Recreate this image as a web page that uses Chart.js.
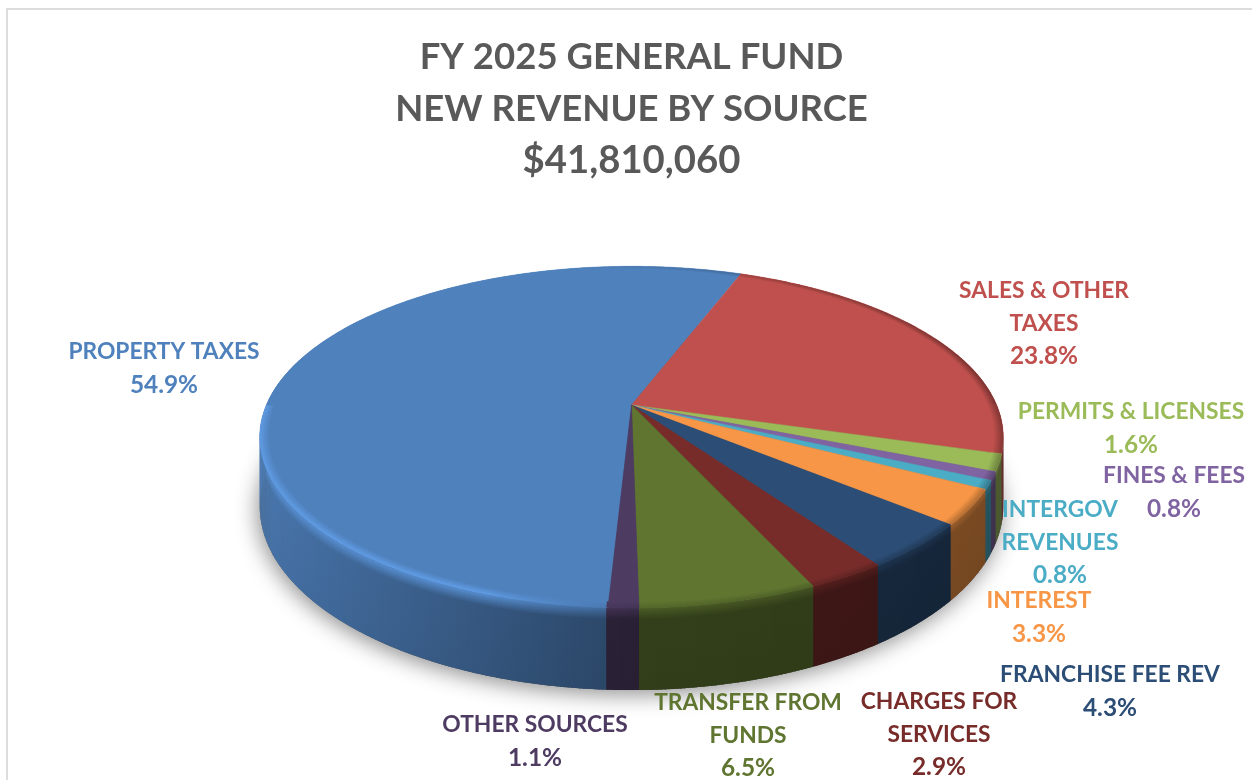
<!DOCTYPE html>
<html>
<head>
<meta charset="utf-8">
<title>FY 2025 General Fund</title>
<script src="https://cdn.jsdelivr.net/npm/chart.js@4"></script>
<style>
    html, body { margin: 0; padding: 0; background: #fff; overflow: hidden; }
    #frame { position: absolute; left: 6px; top: 8px; width: 1246px; height: 772px; box-sizing: border-box; border-top: 2px solid #dcdcdc; border-left: 2px solid #dcdcdc; }
    #wrap { position: absolute; left: 0; top: 0; width: 1252px; height: 780px; }
</style>
</head>
<body>
<div id="frame"></div>
<div id="wrap"><canvas id="revenueChart" width="1252" height="780"></canvas></div>
<script>
const titleLines = ['FY 2025 GENERAL FUND', 'NEW REVENUE BY SOURCE'];
const totalLine = '$41,810,060';
const categories = ['PROPERTY TAXES', 'SALES & OTHER TAXES', 'PERMITS & LICENSES', 'FINES & FEES', 'INTERGOV REVENUES', 'INTEREST', 'FRANCHISE FEE REV', 'CHARGES FOR SERVICES', 'TRANSFER FROM FUNDS', 'OTHER SOURCES'];
const shares = [54.9, 23.8, 1.6, 0.8, 0.8, 3.3, 4.3, 2.9, 6.5, 1.1];
const sliceColors = ['#4f81bd', '#c0504d', '#9bbb59', '#8064a2', '#4bacc6', '#f79646', '#2c4d75', '#772c2a', '#5f7530', '#4d3b62'];

// how each category name wraps, and where its label sits (centre x, first line y)
const labelLines = [['PROPERTY TAXES'], ['SALES & OTHER', 'TAXES'], ['PERMITS & LICENSES'], ['FINES & FEES'], ['INTERGOV', 'REVENUES'], ['INTEREST'], ['FRANCHISE FEE REV'], ['CHARGES FOR', 'SERVICES'], ['TRANSFER FROM', 'FUNDS'], ['OTHER SOURCES']];
const labelX = [164, 1044, 1131, 1174, 1060, 1039, 1110, 939, 748, 535];
const labelY = [352, 291, 412, 476, 510, 601, 675, 702, 703, 725];
const labelLineHeight = 32.7;

// the pie tilted towards the viewer, as multiples of the arc's outer radius
const tilt = { across: 1.675, along: 0.756, perspective: 0.188, thickness: 0.306, bevel: 0.975 };

function shadeColor(hex, f) {
    const n = parseInt(hex.slice(1), 16);
    const ch = [(n >> 16) & 255, (n >> 8) & 255, n & 255].map(c => Math.min(255, Math.round(c * f)));
    return `rgb(${ch[0]}, ${ch[1]}, ${ch[2]})`;
}

function project(arc, angle, r, depth) {
    const R = arc.outerRadius;
    const u = r * Math.cos(angle);
    const v = r * Math.sin(angle);
    const w = 1 - tilt.perspective * v;
    return {
        x: arc.x + R * tilt.across * u / w,
        y: arc.y + R * tilt.along * v / w + depth * R * tilt.thickness / w
    };
}

// wall brightness, the light comes from the left
function wallShade(angle) {
    const u = Math.cos(angle);
    return u < 0 ? 0.54 + 0.4 * -u : 0.54 - 0.06 * u;
}

// brightness of the rounded edge on the top face
function rimShade(angle) {
    const u = Math.cos(angle);
    const v = Math.sin(angle);
    if (v < 0) return 1 - 0.3 * Math.max(u + 0.2, 0);
    if (u < 0) return 1 + 0.2 * Math.min(-u * 3, 1) - 0.12 * (1 - Math.min(-u * 3, 1));
    return 0.88 - 0.2 * u;
}

function anglesOf(arc) {
    const steps = Math.max(2, Math.ceil((arc.endAngle - arc.startAngle) / (Math.PI / 360)));
    const list = [];
    for (let i = 0; i <= steps; i++) {
        list.push(arc.startAngle + (arc.endAngle - arc.startAngle) * i / steps);
    }
    return list;
}

function drawShadow(ctx, arc) {
    ctx.save();
    ctx.shadowColor = 'rgba(0, 0, 0, 0.45)';
    ctx.shadowBlur = 22;
    ctx.shadowOffsetX = -2;
    ctx.shadowOffsetY = 4;
    ctx.fillStyle = '#555';
    ctx.beginPath();
    for (let i = 0; i < 360; i++) {
        const p = project(arc, i * Math.PI / 180, 1, 1);
        if (i === 0) ctx.moveTo(p.x, p.y); else ctx.lineTo(p.x, p.y);
    }
    ctx.closePath();
    ctx.fill();
    ctx.restore();
}

function drawWall(ctx, arc, color) {
    const angles = anglesOf(arc);
    for (let i = 0; i < angles.length - 1; i++) {
        const a0 = angles[i];
        const a1 = angles[i + 1] + 0.004;
        const mid = (a0 + a1) / 2;
        if (Math.sin(mid) < -0.3) continue;
        const t0 = project(arc, a0, 1, 0);
        const t1 = project(arc, a1, 1, 0);
        const b0 = project(arc, a0, 1, 1);
        const b1 = project(arc, a1, 1, 1);
        const g = ctx.createLinearGradient(0, t0.y, 0, b0.y);
        g.addColorStop(0, shadeColor(color, rimShade(mid) * 0.9));
        g.addColorStop(0.14, shadeColor(color, wallShade(mid)));
        g.addColorStop(1, shadeColor(color, wallShade(mid) * 0.97));
        ctx.fillStyle = g;
        ctx.beginPath();
        ctx.moveTo(t0.x, t0.y);
        ctx.lineTo(t1.x, t1.y);
        ctx.lineTo(b1.x, b1.y);
        ctx.lineTo(b0.x, b0.y);
        ctx.closePath();
        ctx.fill();
    }
}

function drawTop(ctx, arc, color) {
    const angles = anglesOf(arc);
    ctx.fillStyle = color;
    ctx.strokeStyle = color;
    ctx.lineWidth = 0.5;
    ctx.beginPath();
    ctx.moveTo(arc.x, arc.y);
    angles.forEach(a => {
        const p = project(arc, a, 1, 0);
        ctx.lineTo(p.x, p.y);
    });
    ctx.closePath();
    ctx.fill();
    ctx.stroke();

    // rounded edge
    for (let i = 0; i < angles.length - 1; i++) {
        const a0 = angles[i];
        const a1 = angles[i + 1] + 0.004;
        const mid = (a0 + a1) / 2;
        const i0 = project(arc, a0, tilt.bevel, 0);
        const i1 = project(arc, a1, tilt.bevel, 0);
        const o0 = project(arc, a0, 1, 0);
        const o1 = project(arc, a1, 1, 0);
        const g = ctx.createLinearGradient(i0.x, i0.y, o0.x, o0.y);
        g.addColorStop(0, color);
        g.addColorStop(1, shadeColor(color, rimShade(mid)));
        ctx.fillStyle = g;
        ctx.beginPath();
        ctx.moveTo(i0.x, i0.y);
        ctx.lineTo(i1.x, i1.y);
        ctx.lineTo(o1.x, o1.y);
        ctx.lineTo(o0.x, o0.y);
        ctx.closePath();
        ctx.fill();
    }
}

const pie3d = {
    id: 'pie3d',
    // the flat arcs are replaced by the tilted ones below
    beforeDatasetDraw(chart, args) {
        const ctx = chart.ctx;
        const arcs = args.meta.data;
        drawShadow(ctx, arcs[0]);
        arcs.forEach(arc => drawWall(ctx, arc, arc.options.backgroundColor));
        arcs.forEach(arc => drawTop(ctx, arc, arc.options.backgroundColor));
        return false;
    },
    afterDraw(chart) {
        const ctx = chart.ctx;
        ctx.save();
        ctx.textAlign = 'center';
        ctx.textBaseline = 'middle';
        categories.forEach((name, i) => {
            ctx.fillStyle = sliceColors[i];
            ctx.font = 'bold 22.8px Lato';
            labelLines[i].forEach((line, j) => {
                ctx.fillText(line, labelX[i], labelY[i] + j * labelLineHeight);
            });
            ctx.font = 'bold 24.4px Lato';
            ctx.fillText(shares[i].toFixed(1) + '%', labelX[i], labelY[i] + labelLines[i].length * labelLineHeight);
        });
        ctx.restore();
    }
};

const chart = new Chart(document.getElementById('revenueChart').getContext('2d'), {
    type: 'pie',
    data: {
        labels: categories,
        datasets: [{
            data: shares,
            backgroundColor: sliceColors,
            borderWidth: 0
        }]
    },
    options: {
        responsive: false,
        animation: false,
        rotation: 183,
        layout: { padding: { left: 11, bottom: 157 } },
        plugins: {
            legend: { display: false },
            tooltip: { enabled: false },
            title: {
                display: true,
                text: titleLines,
                color: '#595959',
                font: { family: 'Lato', size: 36.5, weight: 'bold', lineHeight: 1.425 },
                padding: { top: 31, bottom: 0 }
            },
            subtitle: {
                display: true,
                text: totalLine,
                color: '#595959',
                font: { family: 'Lato', size: 38.3, weight: 'bold', lineHeight: 1.358 },
                padding: 0
            }
        }
    },
    plugins: [pie3d]
});
</script>
</body>
</html>
